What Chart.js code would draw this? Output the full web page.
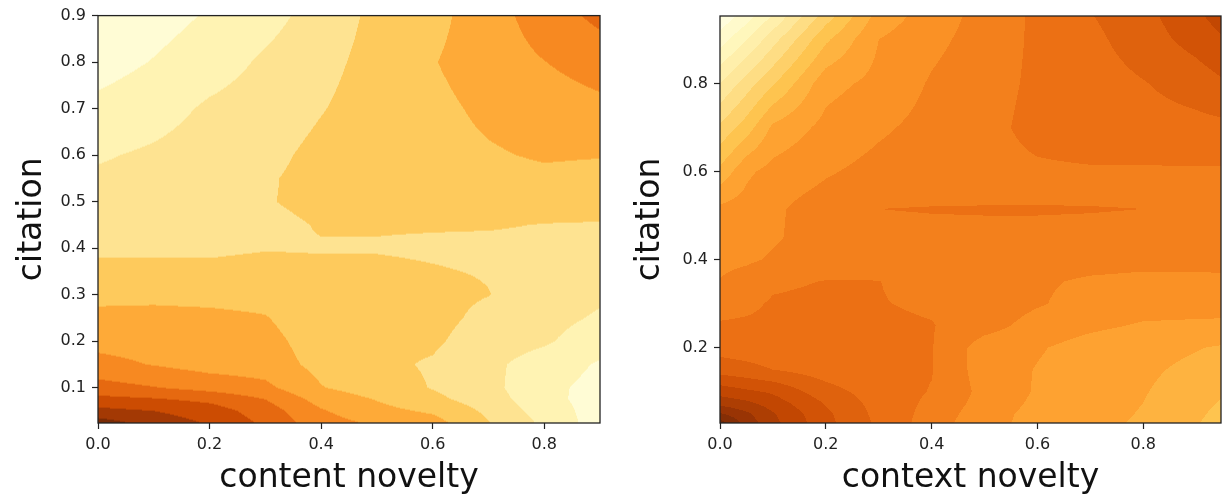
<!DOCTYPE html>
<html>
<head>
<meta charset="utf-8">
<script src="https://cdn.jsdelivr.net/npm/chart.js@4.4.1/dist/chart.umd.min.js"></script>
<style>
  body { margin: 0; background: #fff; }
  #wrap { position: relative; width: 1222px; height: 504px; }
  canvas { position: absolute; top: 0; }
</style>
</head>
<body>
<div id="wrap">
  <canvas id="leftChart" width="611" height="504" style="left:0"></canvas>
  <canvas id="rightChart" width="611" height="504" style="left:611px"></canvas>
</div>
<script>
// ===== LEFT PANEL DATA (content novelty vs citation) =====
const leftX = [0, 0.1, 0.2, 0.3, 0.4, 0.5, 0.6, 0.7, 0.8, 0.9];
const leftY = [0.024, 0.05, 0.075, 0.1, 0.15, 0.2, 0.25, 0.3, 0.35, 0.4, 0.45, 0.5, 0.55, 0.6, 0.7, 0.8, 0.9];
// one row per leftY value, one column per leftX value
const leftZ = [
    [9.5, 8.6, 7.9, 6.8, 5.4, 4.85, 4.4, 3.05, 1.8, 0.5],
    [8.3, 8.0, 7.5, 6.5, 5.1, 4.3, 3.85, 2.8, 1.55, 0.55],
    [7.3, 7.1, 6.75, 6.0, 4.6, 3.95, 3.25, 2.5, 1.3, 0.6],
    [6.4, 6.05, 5.65, 5.25, 4.05, 3.5, 2.95, 2.3, 1.25, 0.7],
    [5.3, 4.95, 4.6, 4.5, 3.7, 3.2, 2.9, 2.25, 1.5, 0.9],
    [4.7, 4.6, 4.45, 4.3, 3.55, 3.25, 3.15, 2.5, 2.15, 1.35],
    [4.25, 4.25, 4.2, 4.05, 3.4, 3.35, 3.3, 2.75, 2.4, 1.85],
    [3.75, 3.8, 3.75, 3.7, 3.3, 3.3, 3.25, 3.02, 2.6, 2.2],
    [3.2, 3.2, 3.2, 3.3, 3.15, 3.15, 3.05, 2.95, 2.75, 2.5],
    [2.85, 2.85, 2.85, 2.95, 2.95, 2.95, 2.9, 2.85, 2.85, 2.75],
    [2.6, 2.65, 2.7, 2.8, 3.05, 3.05, 3.05, 3.05, 2.98, 2.95],
    [2.4, 2.5, 2.75, 2.95, 3.2, 3.3, 3.4, 3.4, 3.3, 3.3],
    [2.15, 2.3, 2.6, 2.9, 3.3, 3.45, 3.55, 3.7, 3.8, 3.7],
    [1.9, 2.15, 2.45, 2.75, 3.25, 3.5, 3.65, 3.9, 4.1, 4.05],
    [1.25, 1.6, 2.15, 2.45, 2.95, 3.45, 3.75, 4.2, 4.5, 4.75],
    [0.6, 1.05, 1.55, 2.15, 2.7, 3.35, 3.95, 4.5, 4.98, 5.45],
    [0.2, 0.6, 1.1, 1.65, 2.4, 3.25, 3.7, 4.55, 5.5, 6.25]
];
const leftLevels = [0, 1, 2, 3, 4, 5, 6, 7, 8, 9, 10];
const leftXTicks = [0, 0.2, 0.4, 0.6, 0.8];
const leftYTicks = [0.1, 0.2, 0.3, 0.4, 0.5, 0.6, 0.7, 0.8, 0.9];

// ===== RIGHT PANEL DATA (context novelty vs citation) =====
const rightX = [0, 0.05, 0.1, 0.2, 0.3, 0.4, 0.5, 0.6, 0.7, 0.8, 0.9, 0.947];
const rightY = [0.029, 0.05, 0.075, 0.1, 0.15, 0.2, 0.25, 0.3, 0.35, 0.4, 0.45, 0.515, 0.55, 0.6, 0.7, 0.8, 0.9, 0.953];
const rightZ = [
    [19.5, 17.6, 16.3, 14.3, 12.8, 11.5, 10.3, 9.7, 9.2, 8.9, 8.1, 7.4],
    [18.1, 17.2, 16.1, 14.2, 12.7, 11.65, 10.4, 9.7, 9.25, 8.95, 8.3, 7.6],
    [16.6, 16.2, 15.5, 13.9, 12.6, 11.8, 10.6, 9.8, 9.3, 9.0, 8.45, 7.9],
    [15.6, 15.2, 14.85, 13.4, 12.5, 11.95, 10.7, 9.9, 9.35, 9.05, 8.6, 8.15],
    [13.55, 13.3, 13.0, 12.5, 12.2, 12.05, 10.5, 9.95, 9.45, 9.15, 8.8, 8.6],
    [12.6, 12.5, 12.4, 12.3, 12.25, 12.05, 10.5, 10.1, 9.6, 9.3, 9.05, 8.9],
    [12.1, 12.15, 12.2, 12.25, 12.2, 12.05, 11.4, 10.6, 10.2, 9.9, 9.85, 9.8],
    [11.65, 11.8, 12.1, 12.2, 12.05, 11.85, 11.6, 11.1, 10.6, 10.4, 10.35, 10.4],
    [11.05, 11.4, 11.85, 12.03, 12.02, 11.6, 11.5, 11.15, 10.85, 10.75, 10.85, 10.9],
    [10.75, 10.85, 11.1, 11.6, 11.6, 11.5, 11.5, 11.5, 11.4, 11.3, 11.2, 11.15],
    [10.5, 10.6, 10.9, 11.4, 11.55, 11.6, 11.6, 11.6, 11.55, 11.45, 11.35, 11.3],
    [10.2, 10.45, 10.85, 11.45, 12.0, 12.08, 12.12, 12.12, 12.08, 12.0, 11.6, 11.5],
    [9.5, 10.15, 10.7, 11.2, 11.5, 11.6, 11.6, 11.65, 11.65, 11.6, 11.5, 11.5],
    [8.25, 9.8, 10.35, 10.9, 11.3, 11.55, 11.7, 11.85, 11.9, 11.9, 11.9, 11.9],
    [6.2, 7.5, 9.2, 10.3, 10.85, 11.3, 11.7, 12.3, 12.55, 12.6, 12.7, 12.75],
    [4.0, 5.5, 6.9, 9.65, 10.3, 11.1, 11.6, 12.2, 12.55, 12.95, 13.45, 13.85],
    [1.5, 2.95, 4.6, 7.8, 10.0, 10.75, 11.4, 12.2, 12.75, 13.5, 14.4, 14.9],
    [0.2, 1.5, 3.1, 6.5, 9.4, 10.5, 11.35, 12.2, 12.95, 13.65, 14.8, 15.4]
];
const rightLevels = [0, 1, 2, 3, 4, 5, 6, 7, 8, 9, 10, 11, 12, 13, 14, 15, 16, 17, 18, 19, 20];
const rightXTicks = [0, 0.2, 0.4, 0.6, 0.8];
const rightYTicks = [0.2, 0.4, 0.6, 0.8];

// YlOrBr colour map anchors
const ylorbr = ["#ffffe5", "#fff7bc", "#fee391", "#fec44f", "#fe9929", "#ec7014", "#cc4c02", "#993404", "#662506"];

function hexRgb(h) {
    return [parseInt(h.slice(1, 3), 16), parseInt(h.slice(3, 5), 16), parseInt(h.slice(5, 7), 16)];
}

function cmap(t) {
    const n = ylorbr.length - 1;
    const p = Math.min(Math.max(t, 0), 1) * n;
    const i = Math.min(Math.floor(p), n - 1);
    const f = p - i;
    const a = hexRgb(ylorbr[i]), b = hexRgb(ylorbr[i + 1]);
    return [0, 1, 2].map(k => Math.round(a[k] + (b[k] - a[k]) * f));
}

function locate(arr, v) {
    let i = 0;
    while (i < arr.length - 2 && v > arr[i + 1]) i++;
    let t = (v - arr[i]) / (arr[i + 1] - arr[i]);
    return [i, Math.min(Math.max(t, 0), 1)];
}

// ===== FILLED CONTOUR PLUGIN =====
const contourFill = {
    id: "contourFill",
    beforeDatasetsDraw(chart, args, opts) {
        const { ctx, chartArea: a, scales } = chart;
        const xs = opts.xs, ys = opts.ys, zs = opts.z, levels = opts.levels;
        const nb = levels.length - 1;
        const colors = levels.slice(0, -1).map((l, i) => cmap((i + 0.5) / nb));
        const w = Math.round(a.right - a.left), h = Math.round(a.bottom - a.top);
        const off = document.createElement("canvas");
        off.width = w; off.height = h;
        const octx = off.getContext("2d");
        const img = octx.createImageData(w, h);
        const colInfo = [];
        for (let px = 0; px < w; px++) {
            colInfo.push(locate(xs, scales.x.getValueForPixel(a.left + px + 0.5)));
        }
        for (let py = 0; py < h; py++) {
            const [j, ty] = locate(ys, scales.y.getValueForPixel(a.top + py + 0.5));
            for (let px = 0; px < w; px++) {
                const [i, tx] = colInfo[px];
                const z = zs[j][i] * (1 - tx) * (1 - ty) + zs[j][i + 1] * tx * (1 - ty)
                        + zs[j + 1][i] * (1 - tx) * ty + zs[j + 1][i + 1] * tx * ty;
                let k = 0;
                while (k < nb - 1 && z >= levels[k + 1]) k++;
                const c = colors[k];
                const o = (py * w + px) * 4;
                img.data[o] = c[0]; img.data[o + 1] = c[1]; img.data[o + 2] = c[2]; img.data[o + 3] = 255;
            }
        }
        octx.putImageData(img, 0, 0);
        ctx.drawImage(off, a.left, a.top);
    },
    afterDraw(chart) {
        const { ctx, chartArea: a } = chart;
        ctx.save();
        ctx.strokeStyle = "#222";
        ctx.lineWidth = 1.3;
        ctx.strokeRect(a.left, a.top, a.right - a.left, a.bottom - a.top);
        ctx.restore();
    }
};

const font = "DejaVu Sans";

function makeChart(id, cfg) {
    const points = cfg.ys.flatMap(yv => cfg.xs.map(xv => ({ x: xv, y: yv })));
    const axis = (min, max, ticks, size, title, titlePad) => ({
        type: "linear",
        min: min,
        max: max,
        afterBuildTicks: s => { s.ticks = ticks.map(v => ({ value: v })); },
        grid: { display: true, drawOnChartArea: false, drawTicks: true, tickLength: 6, tickColor: "#222", tickWidth: 1.2 },
        border: { display: false },
        ticks: {
            color: "#222", font: { family: font, size: 16 }, padding: 6,
            maxRotation: 0, autoSkip: false, callback: v => Number(v).toFixed(1)
        },
        title: { display: true, text: title, color: "#111", font: { family: font, size: 33 }, padding: titlePad }
    });
    const xAxis = axis(cfg.xs[0], cfg.xs[cfg.xs.length - 1], cfg.xTicks, 0, cfg.xTitle, { top: 0, bottom: 6 });
    xAxis.afterFit = s => { s.height = 81; };
    const yAxis = axis(cfg.ys[0], cfg.ys[cfg.ys.length - 1], cfg.yTicks, 0, "citation", { top: cfg.yTitlePad, bottom: 0 });
    yAxis.afterFit = s => { s.width = cfg.yWidth; };

    new Chart(document.getElementById(id), {
        type: "scatter",
        data: { datasets: [{ data: points, pointRadius: 0, showLine: false }] },
        options: {
            responsive: false,
            animation: false,
            devicePixelRatio: 1,
            layout: { padding: cfg.padding },
            scales: { x: xAxis, y: yAxis },
            plugins: {
                legend: { display: false },
                tooltip: { enabled: false },
                contourFill: { xs: cfg.xs, ys: cfg.ys, z: cfg.z, levels: cfg.levels }
            }
        },
        plugins: [contourFill]
    });
}

makeChart("leftChart", {
    xs: leftX, ys: leftY, z: leftZ, levels: leftLevels,
    xTicks: leftXTicks, yTicks: leftYTicks, xTitle: "content novelty",
    yWidth: 98, yTitlePad: 13, padding: { left: 0, top: 14, right: 11, bottom: 0 }
});

makeChart("rightChart", {
    xs: rightX, ys: rightY, z: rightZ, levels: rightLevels,
    xTicks: rightXTicks, yTicks: rightYTicks, xTitle: "context novelty",
    yWidth: 109, yTitlePad: 20, padding: { left: 0, top: 16, right: 1, bottom: 0 }
});
</script>
</body>
</html>
